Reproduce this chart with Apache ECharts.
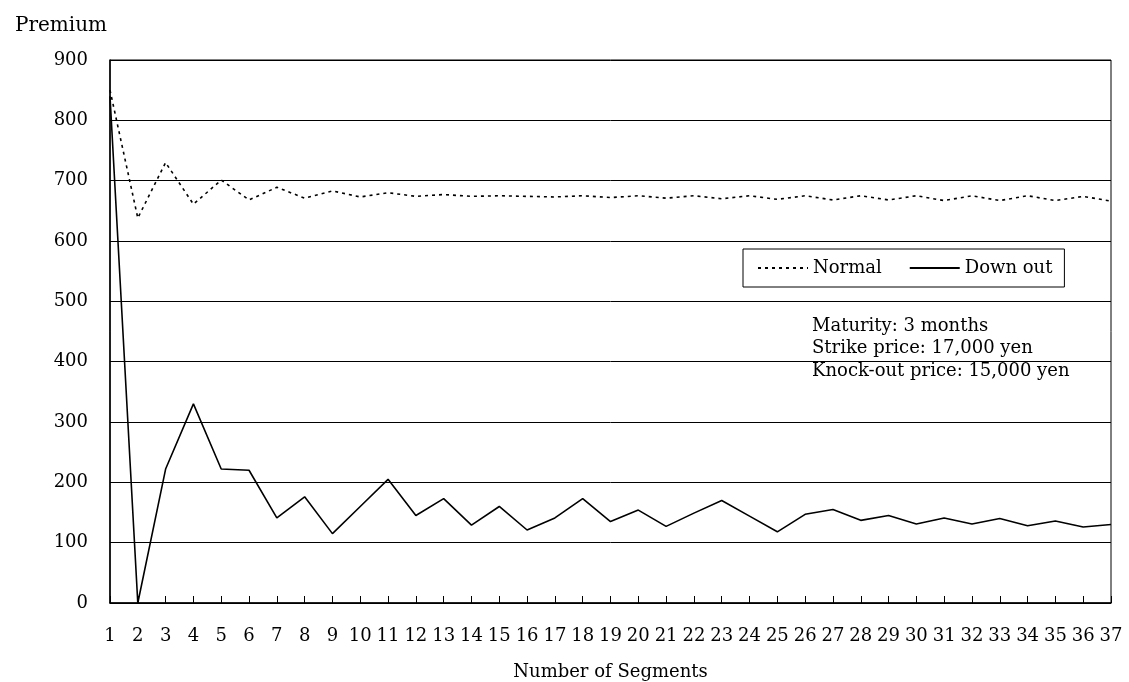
<!DOCTYPE html>
<html>
<head>
<meta charset="utf-8">
<script src="https://cdn.jsdelivr.net/npm/echarts@6/dist/echarts.min.js"></script>
<style>
html,body{margin:0;padding:0;background:#fff;}
#chart{width:1129px;height:682px;}
</style>
</head>
<body>
<div id="chart"></div>
<script>
const segments = ['1','2','3','4','5','6','7','8','9','10','11','12','13','14','15','16','17','18','19','20','21','22','23','24','25','26','27','28','29','30','31','32','33','34','35','36','37'];
const normal = [850,638,730,661,701,668,689,671,683,673,680,674,677,674,675,674,673,675,672,675,671,675,670,675,669,675,668,675,668,675,667,675,667,675,667,674,666];
const downOut = [840,0,222,330,222,220,141,176,115,160,205,145,173,129,160,121,141,173,135,154,127,149,170,144,118,147,155,137,145,131,141,131,140,128,136,126,130];
const yTicks = {min:0, max:900, interval:100};
const notes = ['Maturity: 3 months','Strike price: 17,000 yen','Knock-out price: 15,000 yen'];

const FONT = 'DejaVu Serif';
const chart = echarts.init(document.getElementById('chart'), null, {renderer:'canvas'});
chart.setOption({
  animation:false,
  backgroundColor:'#fff',
  textStyle:{fontFamily:FONT, color:'#000'},
  grid:{left:110, right:18, top:60, bottom:79, outerBoundsMode:'none', containLabel:false,
        show:true, borderColor:'#000', borderWidth:1, backgroundColor:'transparent'},
  legend:{
    data:['Normal','Down out'],
    left:743, top:249,
    padding:[10,12,10,14],
    itemGap:27, itemWidth:50, itemHeight:14,
    itemStyle:{opacity:0},
    borderColor:'#000', borderWidth:1,
    textStyle:{fontFamily:FONT, fontSize:18, color:'#000'}
  },
  xAxis:{
    type:'category', data:segments, boundaryGap:false,
    name:'Number of Segments', nameLocation:'middle', nameGap:60,
    nameTextStyle:{fontFamily:FONT, fontSize:18, color:'#000'},
    axisLine:{lineStyle:{color:'#000', width:1.5}},
    axisTick:{inside:true, length:7, interval:0, lineStyle:{color:'#000'}},
    axisLabel:{interval:0, margin:24, fontFamily:FONT, fontSize:18, color:'#000'},
    splitLine:{show:false}
  },
  yAxis:{
    type:'value', min:yTicks.min, max:yTicks.max, interval:yTicks.interval,
    name:'Premium', nameLocation:'end', nameGap:24,
    nameTextStyle:{fontFamily:FONT, fontSize:20, color:'#000', align:'right', padding:[0,3,0,0]},
    axisLine:{show:true, lineStyle:{color:'#000', width:1.5}},
    axisTick:{show:true, inside:true, length:6, lineStyle:{color:'#000'}},
    axisLabel:{margin:22, fontFamily:FONT, fontSize:18, color:'#000'},
    splitLine:{show:true, lineStyle:{color:'#000', width:1}}
  },
  series:[
    {name:'Normal', type:'line', data:normal, symbol:'none', z:3,
     lineStyle:{color:'#000', width:1.6, type:[3,4]}, itemStyle:{color:'#000'}},
    {name:'Down out', type:'line', data:downOut, symbol:'none', z:4,
     lineStyle:{color:'#000', width:1.6, type:'solid'}, itemStyle:{color:'#000'}}
  ],
  graphic:[{
    type:'text', left:812, top:315, z:10,
    style:{text:notes.join('\n'), font:'18px "DejaVu Serif"', fill:'#000', lineHeight:22.5}
  }]
});
</script>
</body>
</html>
